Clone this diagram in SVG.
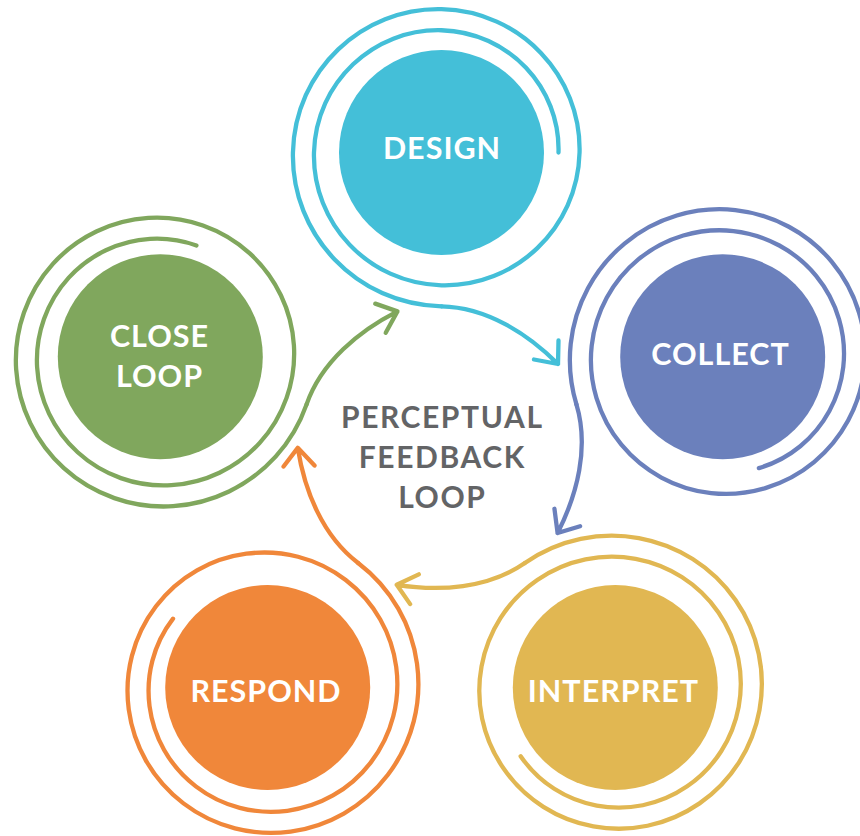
<svg xmlns="http://www.w3.org/2000/svg" xmlns:xlink="http://www.w3.org/1999/xlink" width="860" height="836" viewBox="0 0 860 836">
<defs>
<style>
.ring{fill:none;stroke-width:4.3;stroke-linecap:round;stroke-linejoin:round}
.lbl{font-family:Lato,"Liberation Sans",sans-serif;font-weight:700;font-size:30.5px;letter-spacing:1px;fill:#ffffff;text-anchor:middle}
.ctr{font-family:Lato,"Liberation Sans",sans-serif;font-weight:700;font-size:30px;letter-spacing:1.6px;fill:#636466;text-anchor:middle}
</style>
<path id="spiral" d="M117,0 C118.85,-64.62 67.52,-120.41 0,-122.26 C-67.52,-124.11 -125.67,-70.43 -127.52,0 C-129.37,70.43 -73.34,130.94 0,132.79 C73.34,134.64 136.2,76.24 138.05,0 C139.9,-76.24 79.15,-141.46 0,-143.31 C-79.15,-145.16 -146.72,-82.05 -148.57,0 C-150.42,82.05 -84.96,151.98 0,153.83"/>
<path id="tail" d="M0,153.83 C45,154.8 86,181 116.5,211.5 M117,188 L116.5,211.5 L92.5,207"/>
</defs>
<rect width="860" height="836" fill="#ffffff"/>
<g id="connectors" class="ring">
<use xlink:href="#tail" stroke="#44bfd8" transform="translate(441.5,448.2) rotate(0) translate(0,-295.7)"/>
<use xlink:href="#tail" stroke="#6b80bc" transform="translate(441.5,448.2) rotate(72) translate(0,-295.7)"/>
<use xlink:href="#tail" stroke="#e1b752" transform="translate(441.5,448.2) rotate(144) translate(0,-295.7)"/>
<use xlink:href="#tail" stroke="#f0873a" transform="translate(441.5,448.2) rotate(216) translate(0,-295.7)"/>
<use xlink:href="#tail" stroke="#80a75d" transform="translate(441.5,448.2) rotate(288) translate(0,-295.7)"/>
</g>
<g id="design">
<use xlink:href="#spiral" class="ring" stroke="#44bfd8" transform="translate(441.5,448.2) rotate(0) translate(0,-295.7)"/>
<circle cx="441.5" cy="152.5" r="102.5" fill="#44bfd8"/>
<text class="lbl" x="442" y="159.3">DESIGN</text>
</g>
<g id="collect">
<use xlink:href="#spiral" class="ring" stroke="#6b80bc" transform="translate(441.5,448.2) rotate(72) translate(0,-295.7)"/>
<circle cx="722.7" cy="356.8" r="102.5" fill="#6b80bc"/>
<text class="lbl" x="720.5" y="365">COLLECT</text>
</g>
<g id="interpret">
<use xlink:href="#spiral" class="ring" stroke="#e1b752" transform="translate(441.5,448.2) rotate(144) translate(0,-295.7)"/>
<circle cx="615.3" cy="687.5" r="102.5" fill="#e1b752"/>
<text class="lbl" x="613.5" y="701.7">INTERPRET</text>
</g>
<g id="respond">
<use xlink:href="#spiral" class="ring" stroke="#f0873a" transform="translate(441.5,448.2) rotate(216) translate(0,-295.7)"/>
<circle cx="267.7" cy="687.5" r="102.5" fill="#f0873a"/>
<text class="lbl" x="266" y="701.7">RESPOND</text>
</g>
<g id="close-loop">
<use xlink:href="#spiral" class="ring" stroke="#80a75d" transform="translate(441.5,448.2) rotate(288) translate(0,-295.7)"/>
<circle cx="160.3" cy="356.8" r="102.5" fill="#80a75d"/>
<text class="lbl" x="159.5" y="346.7">CLOSE</text>
<text class="lbl" x="159.5" y="386.7">LOOP</text>
</g>
<g id="title">
<text class="ctr" x="442.3" y="428.3">PERCEPTUAL</text>
<text class="ctr" x="442.3" y="468">FEEDBACK</text>
<text class="ctr" x="442.3" y="507.5">LOOP</text>
</g>
</svg>
